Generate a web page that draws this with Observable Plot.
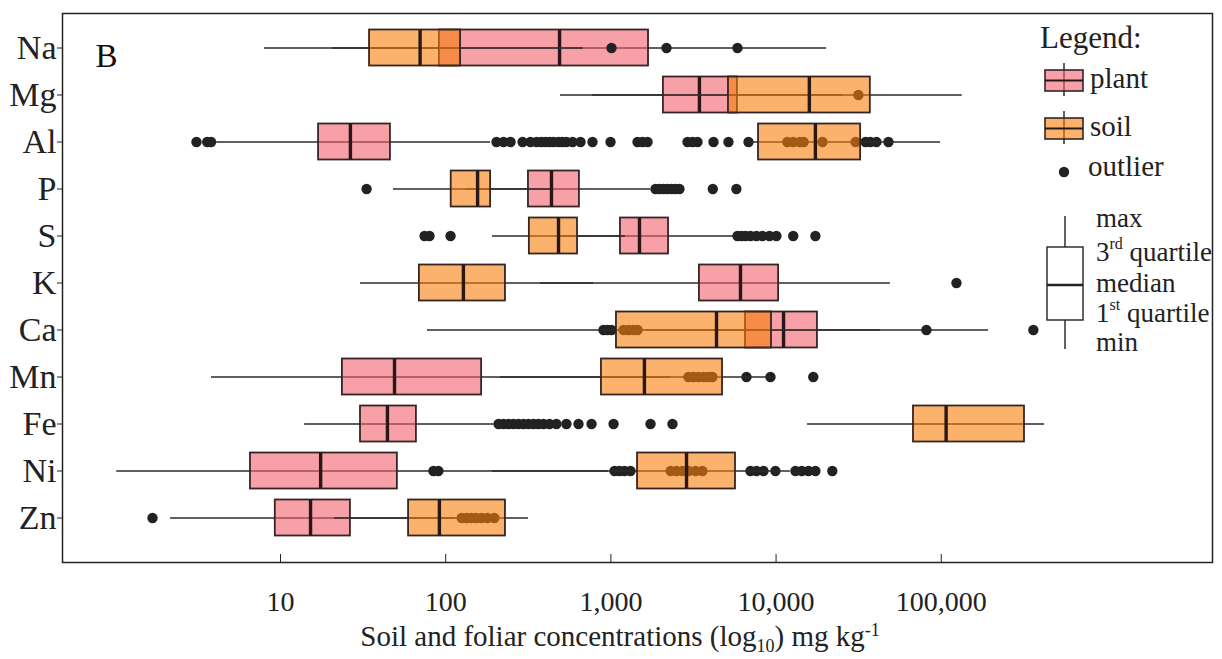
<!DOCTYPE html>
<html>
<head>
<meta charset="utf-8">
<script src="https://cdn.jsdelivr.net/npm/d3@7"></script>
<script src="https://cdn.jsdelivr.net/npm/@observablehq/plot@0.6"></script>
<style>
  body { margin: 0; background: #fff; }
  #wrap { position: relative; width: 1222px; height: 659px; font-family: "Liberation Serif", "Times New Roman", Times, serif; color: #222; }
  #chart { position: absolute; left: 0; top: 0; }
  #legend { position: absolute; left: 0; top: 0; pointer-events: none; }
  #title { position: absolute; left: 0; width: 1240px; top: 621px; text-align: center; font-size: 29px; line-height: 30px; white-space: nowrap; }
  #title .sub { font-size: 18px; position: relative; top: 6px; }
  #title .sup { font-size: 18px; position: relative; top: -10px; }
  svg text { font-family: "Liberation Serif", "Times New Roman", Times, serif; }
</style>
</head>
<body>
<div id="wrap">
  <div id="chart"></div>
  <svg id="legend" width="1222" height="659"></svg>
  <div id="title">Soil and foliar concentrations (log<span class="sub">10</span>) mg kg<span class="sup">-1</span></div>
</div>
<script>
// ---- data (mg kg-1) ----
const elements = ["Na", "Mg", "Al", "P", "S", "K", "Ca", "Mn", "Fe", "Ni", "Zn"];
const xTicks = [10, 100, 1000, 10000, 100000];

// plant (foliar) box statistics
const plantMin = [20.7, 495, 4.05, 132, 495, 375, 1620, 3.82, 14.0, 1.02, 2.16];
const plantQ1  = [91.6, 2080, 17.0, 317, 1143, 3436, 6530, 23.7, 30.5, 6.58, 9.3];
const plantMed = [489, 3436, 26.5, 437, 1490, 6090, 11100, 49, 44.4, 17.5, 15.2];
const plantQ3  = [1690, 5835, 46.3, 645, 2234, 10360, 17800, 165, 66.5, 51, 26.5];
const plantMax = [20200, 25600, 187, 1738, 5600, 49200, 193000, 2300, 197, 966, 115];
const plantOutliers = [
  [],
  [31500],
  [3.1, 3.6, 3.8, 203, 224, 247, 292, 326, 355, 380, 402, 425, 449, 482, 509, 538, 586, 655, 774, 995, 1450, 1553, 1667, 2911, 3120, 3344, 4180, 5150, 6810, 11700, 12700, 13900, 14700, 19100, 30300, 34800, 37200, 40500, 47900],
  [1862, 1968, 2080, 2200, 2327, 2460, 2601, 4140, 5750],
  [5840, 6170, 6530, 7000, 7610, 8270, 9120, 10050, 12700, 17300],
  [123600],
  [902, 953, 1009, 1192, 1279, 1371, 1450, 361000],
  [2950, 3165, 3390, 3640, 3900, 4120, 6620, 9250, 16800],
  [209, 224, 240, 257, 276, 296, 317, 340, 364, 391, 425, 468, 538, 637, 764, 1038, 1738, 2360],
  [1052, 1127, 1208, 1314, 2300, 2495, 2712, 2950, 3252, 3580, 7000, 7610, 8390, 9910],
  [1.68, 125, 134, 143, 153, 165, 179, 197]
];

// soil box statistics
const soilMin = [8.0, 774, 6530, 48.3, 192, 30.5, 77.6, 215, 15500, 192, 21.2];
const soilQ1  = [34.6, 5150, 7830, 108, 321, 69.3, 1081, 877, 67900, 1450, 59.6];
const soilMed = [70, 15900, 17300, 156, 482, 128, 4360, 1596, 107000, 2870, 91.6];
const soilQ3  = [123, 37200, 32500, 187, 628, 230, 9380, 4740, 319000, 5680, 230];
const soilMax = [682, 134000, 98900, 431, 1225, 785, 42800, 9250, 422000, 12200, 317];
const soilOutliers = [
  [1009, 2172, 5840],
  [],
  [],
  [33.2],
  [74.5, 79.8, 107],
  [],
  [81300],
  [],
  [],
  [84.3, 90.3, 13100, 14300, 15700, 17300, 21900],
  []
];

// ---- build tables ----
function boxRows(mn, q1, md, q3, mx) {
  return elements.map((el, i) => ({el, min: mn[i], q1: q1[i], med: md[i], q3: q3[i], max: mx[i]}));
}
function outRows(arr) {
  return elements.flatMap((el, i) => arr[i].map(v => ({el, v})));
}
const plantRows = boxRows(plantMin, plantQ1, plantMed, plantQ3, plantMax);
const soilRows = boxRows(soilMin, soilQ1, soilMed, soilQ3, soilMax);
const plantOut = outRows(plantOutliers);
const soilOut = outRows(soilOutliers);

const SERIF = "'Liberation Serif', 'Times New Roman', Times, serif";
const PINK = "#f2616e";
const ORANGE = "#f77f0a";
const OP = 0.6;
const LINE = "#2e2a2a";
const INSET = 5.5;

function layer(rows, outs, color) {
  return [
    Plot.ruleY(rows, {y: "el", x1: "min", x2: "max", stroke: LINE, strokeWidth: 1.7}),
    Plot.barX(rows, {y: "el", x1: "q1", x2: "q3", fill: color, fillOpacity: OP, stroke: "#352525", strokeWidth: 1.8, insetTop: INSET, insetBottom: INSET}),
    Plot.tickX(rows, {y: "el", x: "med", stroke: "#2a1818", strokeWidth: 3.4, insetTop: INSET, insetBottom: INSET}),
    Plot.dot(outs, {y: "el", x: "v", r: 5.2, fill: "#222", stroke: "none"})
  ];
}

const chart = Plot.plot({
  width: 1222,
  height: 620,
  marginLeft: 62,
  marginRight: 10,
  marginTop: 13,
  marginBottom: 58,
  style: {fontFamily: SERIF, background: "transparent", color: "#222"},
  x: {type: "log", domain: [0.479, 4.385e6]},
  y: {type: "band", domain: elements, range: [19, 546], padding: 0},
  marks: [
    ...layer(plantRows, plantOut, PINK),
    ...layer(soilRows, soilOut, ORANGE),
    Plot.frame({stroke: "#222", strokeWidth: 1.5}),
    Plot.axisY({tickSize: 5, tickPadding: 1, fontSize: 34, label: null, stroke: "#222", fontFamily: SERIF}),
    Plot.axisX({ticks: xTicks, tickSize: 8, dy: -8, tickFormat: () => "", label: null, stroke: "#222"}),
    Plot.axisX({ticks: xTicks, tickSize: 0, tickPadding: 29, tickFormat: d3.format(","), fontSize: 28, label: null, fontFamily: SERIF}),
    Plot.text(["B"], {frameAnchor: "top-left", dx: 33, dy: 30, fontSize: 33, textAnchor: "start", fill: "#111", fontFamily: SERIF})
  ]
});
document.getElementById("chart").appendChild(chart);

// ---- legend ----
const lg = d3.select("#legend").style("font-family", SERIF);
lg.append("text").attr("x", 1040).attr("y", 37).attr("dominant-baseline", "central").attr("font-size", 31).attr("fill", "#222").text("Legend:");
function key(y0, color, label) {
  lg.append("line").attr("x1", 1064).attr("x2", 1064).attr("y1", y0 - 7).attr("y2", y0 + 26).attr("stroke", LINE).attr("stroke-width", 1.5);
  lg.append("rect").attr("x", 1045).attr("y", y0).attr("width", 38).attr("height", 21).attr("fill", color).attr("fill-opacity", OP).attr("stroke", "#352525").attr("stroke-width", 1.6);
  lg.append("line").attr("x1", 1045).attr("x2", 1083).attr("y1", y0 + 10.5).attr("y2", y0 + 10.5).attr("stroke", "#2a1818").attr("stroke-width", 2.2);
  lg.append("text").attr("x", 1090).attr("y", y0 + 8).attr("dominant-baseline", "central").attr("font-size", 29).attr("fill", "#222").text(label);
}
key(70, PINK, "plant");
key(118, ORANGE, "soil");
lg.append("circle").attr("cx", 1064).attr("cy", 172).attr("r", 5.2).attr("fill", "#222");
lg.append("text").attr("x", 1088).attr("y", 166).attr("dominant-baseline", "central").attr("font-size", 29).attr("fill", "#222").text("outlier");

lg.append("line").attr("x1", 1065).attr("x2", 1065).attr("y1", 216).attr("y2", 247).attr("stroke", "#222").attr("stroke-width", 1.4);
lg.append("rect").attr("x", 1047).attr("y", 247).attr("width", 36).attr("height", 73).attr("fill", "none").attr("stroke", "#222").attr("stroke-width", 1.4);
lg.append("line").attr("x1", 1047).attr("x2", 1083).attr("y1", 285).attr("y2", 285).attr("stroke", "#222").attr("stroke-width", 2.6);
lg.append("line").attr("x1", 1065).attr("x2", 1065).attr("y1", 320).attr("y2", 349).attr("stroke", "#222").attr("stroke-width", 1.4);

function ltext(y, parts) {
  const t = lg.append("text").attr("x", 1096).attr("y", y).attr("dominant-baseline", "central").attr("font-size", 27).attr("fill", "#222");
  parts.forEach(p => {
    const s = t.append("tspan").text(p[0]);
    if (p[1]) s.attr("font-size", 16).attr("baseline-shift", "super");
  });
}
ltext(218, [["max"]]);
ltext(252, [["3"], ["rd", true], [" quartile"]]);
ltext(283, [["median"]]);
ltext(313, [["1"], ["st", true], [" quartile"]]);
ltext(342, [["min"]]);
</script>
</body>
</html>
